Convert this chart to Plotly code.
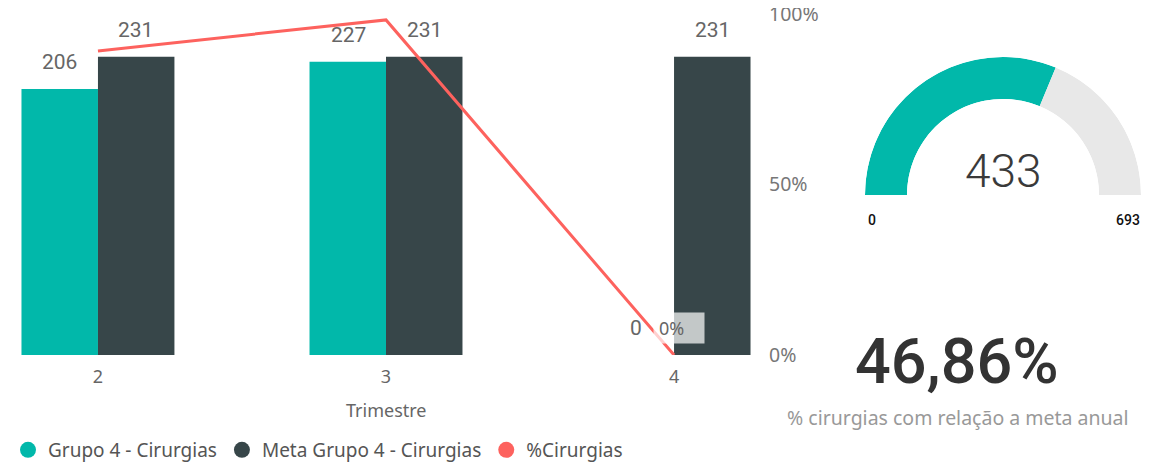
import plotly.graph_objects as go

# ---- data ----
trimestres = ["2", "3", "4"]
grupo4_cirurgias = [206, 227, 0]
meta_grupo4 = [231, 231, 231]
pct_cirurgias = [g / m for g, m in zip(grupo4_cirurgias, meta_grupo4)]

gauge_value = 433
gauge_min = 0
gauge_max = 693
meta_anual = 924
kpi_value = gauge_value / meta_anual * 100
kpi_label = "% cirurgias com relação a meta anual"

series_names = ["Grupo 4 - Cirurgias", "Meta Grupo 4 - Cirurgias", "%Cirurgias"]
pct_ticks = [0, 0.5, 1]

TEAL = "#01B8AA"
DARK = "#374649"
RED = "#FD625E"
GAUGE_BG = "#E8E8E8"

# page is 1163x466; the html body has an 8px margin, so the figure is offset by 8px
OFF = 8
W, H = 1163 - OFF, 466 - OFF


def fx(px):
    return (px - OFF) / W


def fy(py):
    return (H - (py - OFF)) / H


fig = go.Figure()

fig.add_trace(go.Bar(x=trimestres, y=grupo4_cirurgias, name=series_names[0],
                     marker=dict(color=TEAL, line=dict(width=0)), showlegend=False,
                     hoverinfo="skip"))
fig.add_trace(go.Bar(x=trimestres, y=meta_grupo4, name=series_names[1],
                     marker=dict(color=DARK, line=dict(width=0)), showlegend=False,
                     hoverinfo="skip"))
fig.add_trace(go.Scatter(x=trimestres, y=pct_cirurgias, name=series_names[2], yaxis="y2",
                         mode="lines", line=dict(color=RED, width=3), showlegend=False,
                         hoverinfo="skip"))

# legend entries with circle markers
for nm, col in zip(series_names, [TEAL, DARK, RED]):
    fig.add_trace(go.Scatter(x=[None], y=[None], mode="markers", name=nm,
                             marker=dict(color=col, size=16, symbol="circle"),
                             showlegend=True))

# gauge drawn as polar bars
frac = (gauge_value - gauge_min) / (gauge_max - gauge_min)
fig.add_trace(go.Barpolar(r=[1, 1], theta=[90 * frac, 180 * frac + 90 * (1 - frac)],
                          width=[180 * frac, 180 * (1 - frac)],
                          marker=dict(color=[TEAL, GAUGE_BG], line=dict(width=0)),
                          showlegend=False, hoverinfo="skip"))

label_font = dict(family="Roboto", size=21, color="#666666")
annotations = []
for i, cat in enumerate(trimestres):
    annotations.append(dict(x=i, y=grupo4_cirurgias[i], xref="x", yref="y",
                            text=str(grupo4_cirurgias[i]), showarrow=False,
                            xanchor="center", yanchor="middle",
                            xshift=-38, yshift=27, font=label_font))
    annotations.append(dict(x=i, y=meta_grupo4[i], xref="x", yref="y",
                            text=str(meta_grupo4[i]), showarrow=False,
                            xanchor="center", yanchor="middle",
                            xshift=38, yshift=27, font=label_font))

# visible line label at last point
last = len(trimestres) - 1
annotations.append(dict(x=last, y=pct_cirurgias[-1], xref="x", yref="y2",
                        text=f"{pct_cirurgias[-1]:.0%}", showarrow=False, xanchor="center",
                        yanchor="middle", xshift=5, yshift=27, width=40, height=20,
                        align="left", valign="middle",
                        bgcolor="rgba(255,255,255,0.7)", borderpad=5,
                        font=dict(family="Noto Sans", size=18, color="#666666")))

annotations.append(dict(x=1, y=fy(410), xref="x", yref="paper", text="Trimestre",
                        xanchor="center", yanchor="middle", showarrow=False,
                        font=dict(family="Noto Sans", size=18, color="#666666")))

# gauge texts
annotations += [
    dict(x=fx(1003), y=fy(171), xref="paper", yref="paper", text=str(gauge_value),
         xanchor="center", yanchor="middle", showarrow=False,
         font=dict(family="Roboto", size=46, color="#3a3a3a", weight=300)),
    dict(x=fx(866), y=fy(220), xref="paper", yref="paper", text=str(gauge_min),
         xanchor="left", yanchor="middle", showarrow=False,
         font=dict(family="Roboto", size=14, color="#111111", weight=500)),
    dict(x=fx(1142), y=fy(220), xref="paper", yref="paper", text=str(gauge_max),
         xanchor="right", yanchor="middle", showarrow=False,
         font=dict(family="Roboto", size=14, color="#111111", weight=500)),
    dict(x=fx(957), y=fy(361), xref="paper", yref="paper",
         text=f"{kpi_value:.2f}%".replace(".", ","), xanchor="center", yanchor="middle",
         showarrow=False, font=dict(family="Roboto", size=63, color="#333333", weight=500)),
    dict(x=fx(958), y=fy(417), xref="paper", yref="paper", text=kpi_label,
         xanchor="center", yanchor="middle", showarrow=False,
         font=dict(family="Noto Sans", size=19.5, color="#999999")),
]

fig.update_layout(
    width=W, height=H,
    margin=dict(l=0, r=0, t=0, b=0, autoexpand=False),
    paper_bgcolor="white", plot_bgcolor="white",
    barmode="group", bargap=0.469, bargroupgap=0,
    xaxis=dict(domain=[fx(15), fx(757)], type="category", range=[-0.288, 2.288],
               showgrid=False, showline=False, zeroline=False, ticks="",
               ticklabelstandoff=9, automargin=False,
               tickfont=dict(family="Noto Sans", size=18, color="#666666")),
    yaxis=dict(domain=[fy(355), fy(14)], range=[0, 264], visible=False,
               showgrid=False, zeroline=False, automargin=False),
    yaxis2=dict(overlaying="y", side="right", range=[0, 1], tickvals=pct_ticks,
                tickformat=".0%", showgrid=False, zeroline=False, ticks="",
                ticklabelstandoff=11, automargin=False, ticklabeloverflow="allow",
                tickfont=dict(family="Noto Sans", size=19.5, color="#777777")),
    polar=dict(domain=dict(x=[fx(865), fx(1141)], y=[fy(195), fy(57)]),
               sector=[0, 180], hole=96 / 138, bgcolor="rgba(0,0,0,0)",
               radialaxis=dict(visible=False, range=[0, 1], showgrid=False),
               angularaxis=dict(visible=False, rotation=180, direction="clockwise",
                                showgrid=False)),
    legend=dict(orientation="h", x=fx(2), y=fy(450), yanchor="middle", xanchor="left",
                xref="container", yref="container",
                font=dict(family="Noto Sans", size=19, color="#555555"),
                itemwidth=30, tracegroupgap=0, bgcolor="rgba(0,0,0,0)"),
    annotations=annotations,
    showlegend=True,
)

fig.write_html("out.html")
